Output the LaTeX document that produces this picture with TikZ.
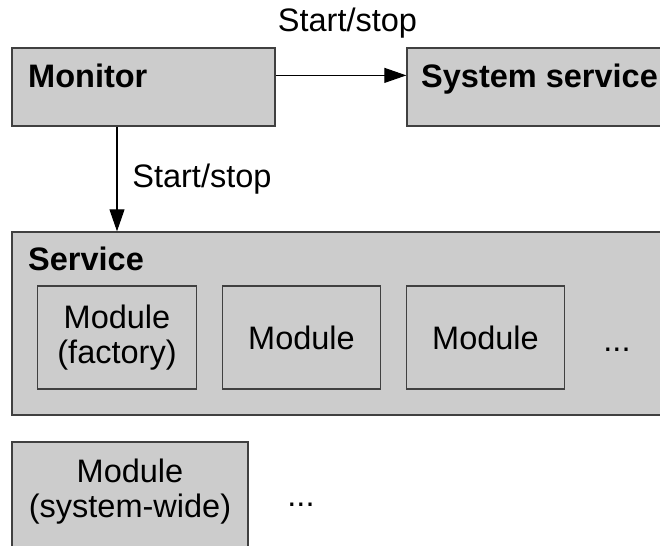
\documentclass[tikz,border=0pt]{standalone}
\usepackage{fontspec}
\setmainfont{Liberation Sans}
\usetikzlibrary{arrows.meta, positioning}
\definecolor{boxfill}{HTML}{CCCCCC}
\definecolor{boxline}{HTML}{404040}

\begin{document}
\begin{tikzpicture}[x=0.02cm, y=-0.02cm, font=\fontsize{18.5}{20}\selectfont,
    box/.style={draw=boxline, fill=boxfill, line width=0.8pt, inner sep=0pt},
    modbox/.style={box, minimum width=3.17cm, minimum height=2.06cm, align=center},
    heading/.style={font=\fontsize{18.5}{20}\selectfont\bfseries, anchor=base west},
    arr/.style={-{Triangle[length=0.44cm, width=0.3cm]}, line width=0.6pt}]
    \useasboundingbox (0,0) rectangle (660,545);
    \clip (0,0) rectangle (660,545);

    % Top row
    \node[box, minimum width=5.26cm, minimum height=1.56cm] (mon) at (143.5,87) {};
    \node[heading] (montext) at (22,87) {Monitor};
    \node[box, minimum width=5.26cm, minimum height=1.56cm] (sys) at (538.5,87) {};
    \node[heading] (systext) at (415,87) {System service};

    % Service with its modules
    \node[box, minimum width=13.36cm, minimum height=3.66cm] (svc) at (346,323.5) {};
    \node[heading] (svctext) at (22,270) {Service};
    \node[modbox] (m1) at (117,337.5) {Module\\(factory)};
    \node[modbox] (m2) at (301.5,337.5) {Module};
    \node[modbox] (m3) at (485.5,337.5) {Module};
    \node[anchor=base] (dots1) at (617,351) {...};

    % System-wide module
    \node[box, minimum width=4.72cm, minimum height=2.26cm] (msw) at (130,498.5) {};
    \node[align=center] (mswtext) at (130,492) {Module\\(system-wide)};
    \node[anchor=base] (dots2) at (301,506) {...};

    % Start/stop arrows
    \draw[arr] (mon.east |- montext) -- node[above=0.62cm, xshift=0.13cm] (hlabel) {Start/stop} (sys.west |- montext);
    \draw[arr] (mon.south -| m1) -- node[right=0.18cm] (vlabel) {Start/stop} (svc.north -| m1);
\end{tikzpicture}
\end{document}
